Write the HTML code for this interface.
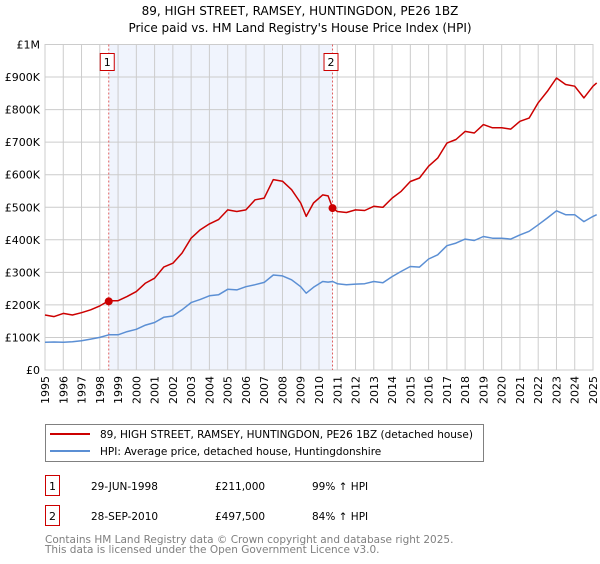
<!DOCTYPE html>
<html><head><meta charset="utf-8"><style>
body{margin:0;background:#fff;font-family:"DejaVu Sans","Liberation Sans",sans-serif;}
svg text{font-family:"DejaVu Sans","Liberation Sans",sans-serif;}
</style></head><body>
<svg id="chart" width="600" height="560" viewBox="0 0 600 560">
<text x="300" y="15" text-anchor="middle" font-size="12" fill="#000">89, HIGH STREET, RAMSEY, HUNTINGDON, PE26 1BZ</text>
<text x="300" y="32" text-anchor="middle" font-size="12" fill="#000">Price paid vs. HM Land Registry's House Price Index (HPI)</text>
<g id="plot"></g>
<g>
<rect x="45.5" y="424.5" width="438" height="37" fill="#fff" stroke="#808080"/>
<line x1="50" y1="434" x2="90" y2="434" stroke="#cc0000" stroke-width="2"/>
<text x="100" y="438" font-size="10.5">89, HIGH STREET, RAMSEY, HUNTINGDON, PE26 1BZ (detached house)</text>
<line x1="50" y1="451" x2="90" y2="451" stroke="#5b8fd4" stroke-width="2"/>
<text x="100" y="455" font-size="10.5">HPI: Average price, detached house, Huntingdonshire</text>
</g>
<g>
<rect x="45.5" y="475.5" width="14" height="20" fill="#fff" stroke="#cc0000"/>
<text x="52.5" y="490" font-size="11" text-anchor="middle">1</text>
<text x="91" y="490" font-size="10.5">29-JUN-1998</text>
<text x="215" y="490" font-size="10.5">£211,000</text>
<text x="312" y="490" font-size="10.5">99% ↑ HPI</text>
</g>
<g>
<rect x="45.5" y="505.5" width="14" height="20" fill="#fff" stroke="#cc0000"/>
<text x="52.5" y="520" font-size="11" text-anchor="middle">2</text>
<text x="91" y="520" font-size="10.5">28-SEP-2010</text>
<text x="215" y="520" font-size="10.5">£497,500</text>
<text x="312" y="520" font-size="10.5">84% ↑ HPI</text>
</g>
<text x="45" y="543" font-size="10.5" fill="#808080">Contains HM Land Registry data © Crown copyright and database right 2025.</text>
<text x="45" y="553" font-size="10.5" fill="#808080">This data is licensed under the Open Government Licence v3.0.</text>
</svg>
<script>
const years=[1995,1995.5,1996,1996.5,1997,1997.5,1998,1998.5,1999,1999.5,2000,2000.5,2001,2001.5,2002,2002.5,2003,2003.5,2004,2004.5,2005,2005.5,2006,2006.5,2007,2007.5,2008,2008.5,2009,2009.3,2009.7,2010.2,2010.5,2010.75,2011,2011.5,2012,2012.5,2013,2013.5,2014,2014.5,2015,2015.5,2016,2016.5,2017,2017.5,2018,2018.5,2019,2019.5,2020,2020.5,2021,2021.5,2022,2022.5,2023,2023.5,2024,2024.5,2025,2025.2];
const propertyValues=[169,164,174,169,176,185,197,213,213,226,241,267,282,316,328,359,405,431,449,462,492,487,492,523,528,585,580,554,513,472,513,538,535,497,487,484,492,490,503,500,528,549,579,590,626,651,697,708,733,728,754,744,744,740,764,774,821,856,897,877,872,836,872,882];
const hpiValues=[85,86,85,87,90,95,100,108,108,118,125,138,146,162,166,185,207,217,228,231,248,246,256,262,269,292,289,277,256,236,254,272,270,272,265,262,264,265,272,268,287,303,318,316,341,354,382,390,402,398,410,405,405,402,415,426,446,467,489,477,477,456,472,477];
const yTicks=[0,100,200,300,400,500,600,700,800,900,1000];
const yTickLabels=["£0","£100K","£200K","£300K","£400K","£500K","£600K","£700K","£800K","£900K","£1M"];
const xTicks=[1995,1996,1997,1998,1999,2000,2001,2002,2003,2004,2005,2006,2007,2008,2009,2010,2011,2012,2013,2014,2015,2016,2017,2018,2019,2020,2021,2022,2023,2024,2025];
const saleYears=[1998.49,2010.74];
const salePrices=[211,497.5];
const saleLabels=["1","2"];
const X0=45,X1=593,Y0=370,Y1=44.5;
const xs=y=>X0+(y-1995)/30*(X1-X0);
const ys=v=>Y0-v/1000*(Y0-Y1);
const NS="http://www.w3.org/2000/svg";
const g=document.getElementById('plot');
function mk(tag,attrs,parent){const e=document.createElementNS(NS,tag);for(const k in attrs)e.setAttribute(k,attrs[k]);(parent||g).appendChild(e);return e;}
let e=mk('rect',{x:X0,y:Y1,width:X1-X0,height:Y0-Y1,fill:'#fff'});


e=mk('rect',{x:xs(saleYears[0]),y:Y1,width:xs(saleYears[1])-xs(saleYears[0]),height:Y0-Y1,fill:'#f0f4fd'});


yTicks.forEach((t,i)=>{
 e=mk('line',{x1:X0,x2:X1,y1:ys(t),y2:ys(t),stroke:'#cccccc','stroke-width':1});
 
 
 e=mk('text',{x:40,y:ys(t)+4,'text-anchor':'end','font-size':11,fill:'#000'});
 e.textContent=yTickLabels[i];
 
 
});
xTicks.forEach(t=>{
 e=mk('line',{x1:xs(t),x2:xs(t),y1:Y1,y2:Y0,stroke:'#cccccc','stroke-width':1});
 
 
 e=mk('text',{x:0,y:0,'text-anchor':'end','font-size':11,fill:'#000',transform:`translate(${xs(t)+4},376) rotate(-90)`});
 e.textContent=t;
 
 
});
e=mk('rect',{x:X0,y:Y1,width:X1-X0,height:Y0-Y1,fill:'none',stroke:'#cccccc'});


saleYears.forEach((sy,i)=>{
 e=mk('line',{x1:xs(sy),x2:xs(sy),y1:Y1,y2:Y0,stroke:'#e06060','stroke-dasharray':'2,2','stroke-width':1});
 
 
});
function path(vals,color,name){
 const d=years.map((y,i)=>(i?'L':'M')+xs(y).toFixed(1)+','+ys(vals[i]).toFixed(1)).join('');
 const p=mk('path',{d:d,fill:'none',stroke:color,'stroke-width':1.5,'stroke-linejoin':'round'});
 
 
}
path(hpiValues,'#5b8fd4','hpi-line');
path(propertyValues,'#cc0000','property-price-line');
saleYears.forEach((sy,i)=>{
 e=mk('circle',{cx:xs(sy),cy:ys(salePrices[i]),r:4,fill:'#cc0000'});
 
 
 e=mk('rect',{x:xs(sy)-8.5,y:53.5,width:14,height:17,fill:'#fff',stroke:'#cc0000'});
 
 
 e=mk('text',{x:xs(sy)-1.5,y:66,'text-anchor':'middle','font-size':11});
 e.textContent=saleLabels[i];
 
 
});
</script>
</body></html>
